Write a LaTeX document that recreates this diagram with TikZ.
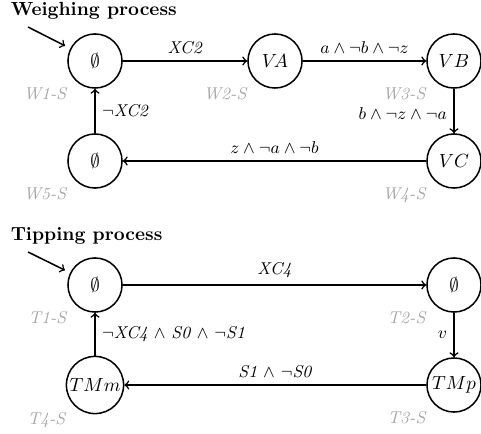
\documentclass[tikz,border=0pt]{standalone}
\begin{document}
\begin{tikzpicture}[x=0.0185cm, y=-0.0185cm, thick, label distance=4.7pt,
        state/.style={draw, shape=circle, minimum size=1cm, inner sep=1pt},
        tag/.style={text=black!35, font=\small\itshape, inner sep=0pt, xshift=-1pt},
        trans/.style={font=\small}]
    \useasboundingbox (0,0) rectangle (481,434);

    % weighing
    \node[anchor=base west, inner sep=0pt, font=\bfseries] (WT) at (10,16) {Weighing process};
    \node[state, label={[tag]below left:W1-S}] (W1) at (95,61) {$\emptyset$};
    \node[state, label={[tag]below left:W2-S}] (W2) at (275,61) {$V\!A$};
    \node[state, label={[tag]below left:W3-S}] (W3) at (454,61) {$VB$};
    \node[state, label={[tag]below left:W4-S}] (W4) at (454,161) {$VC$};
    \node[state, label={[tag]below left:W5-S}] (W5) at (95,161) {$\emptyset$};
    \coordinate (W0) at (28,27);

    \draw[->, shorten >=3pt] (W0)--(W1);
    \draw[->] (W1)-- node[above, trans] {\textit{XC2}} (W2);
    \draw[->] (W2)-- node[above, trans] {$a \land \neg b \land \neg z$} (W3);
    \draw[->] (W3)-- node[left, trans, yshift=-1.5pt] {$b \land \neg z \land \neg a$} (W4);
    \draw[->] (W4)-- node[above, trans] {$z \land \neg a \land \neg b$} (W5);
    \draw[->] (W5)-- node[right, trans] {$\neg$\textit{XC2}} (W1);

    % tipping
    \node[anchor=base west, inner sep=0pt, font=\bfseries] (TT) at (10,241) {Tipping process};
    \node[state, label={[tag]below left:T1-S}] (T1) at (95,285) {$\emptyset$};
    \node[state, label={[tag]below left:T2-S}] (T2) at (454,285) {$\emptyset$};
    \node[state, label={[tag]below left:T3-S}] (T3) at (454,385) {$TMp$};
    \node[state, label={[tag]below left:T4-S}] (T4) at (95,385) {$TMm$};
    \coordinate (T0) at (28,252);

    \draw[->, shorten >=3pt] (T0)--(T1);
    \draw[->] (T1)-- node[above, trans] {\textit{XC4}} (T2);
    \draw[->] (T2)-- node[left, trans] {$v$} (T3);
    \draw[->] (T3)-- node[above, trans] {\textit{S1} $\land$ $\neg$\textit{S0}} (T4);
    \draw[->] (T4)-- node[right, trans] {$\neg$\textit{XC4} $\land$ \textit{S0} $\land$ $\neg$\textit{S1}} (T1);
\end{tikzpicture}
\end{document}
